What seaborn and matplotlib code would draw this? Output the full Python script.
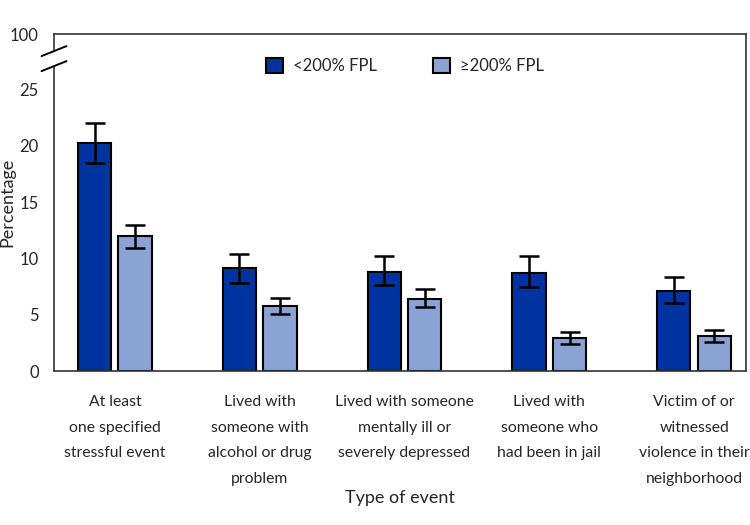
import matplotlib
matplotlib.use('Agg')
import matplotlib.pyplot as plt
import matplotlib.transforms as mtransforms
import seaborn as sns
import pandas as pd
import numpy as np

# data
events = ['At least\none specified\nstressful event',
          'Lived with\nsomeone with\nalcohol or drug\nproblem',
          'Lived with someone\nmentally ill or\nseverely depressed',
          'Lived with\nsomeone who\nhad been in jail',
          'Victim of or\nwitnessed\nviolence in their\nneighborhood']
groups = ['<200% FPL', '≥200% FPL']
low_fpl = [20.2, 9.1, 8.8, 8.7, 7.1]
low_fpl_lo = [18.5, 7.8, 7.6, 7.5, 6.0]
low_fpl_hi = [22.0, 10.4, 10.2, 10.2, 8.3]
high_fpl = [12.0, 5.8, 6.4, 2.9, 3.1]
high_fpl_lo = [10.9, 5.05, 5.7, 2.4, 2.6]
high_fpl_hi = [13.0, 6.5, 7.3, 3.45, 3.6]
colors = ['#0033A0', '#8AA2D4']

df = pd.DataFrame({
    'event': events * 2,
    'group': [groups[0]] * 5 + [groups[1]] * 5,
    'pct': low_fpl + high_fpl,
})

sns.set_style('white')
plt.rcParams['font.family'] = ['Lato', 'DejaVu Sans']

fig = plt.figure(figsize=(7.5, 5.25), dpi=100)
ax = fig.add_axes([0.072, 0.2933, 0.923, 0.6417])

sns.barplot(data=df, x='event', y='pct', hue='group', palette=colors,
            saturation=1, width=0.56, gap=0.18, errorbar=None,
            edgecolor='black', linewidth=1.5, ax=ax)

los = [low_fpl_lo, high_fpl_lo]
his = [low_fpl_hi, high_fpl_hi]
bars = list(ax.containers)
for i, cont in enumerate(bars):
    xs = [p.get_x() + p.get_width() / 2 for p in cont.patches]
    ys = [p.get_height() for p in cont.patches]
    lo = np.array(ys) - np.array(los[i])
    hi = np.array(his[i]) - np.array(ys)
    ax.errorbar(xs, ys, yerr=[lo, hi], fmt='none', ecolor='black',
                elinewidth=1.8, capsize=7, capthick=1.8, zorder=5)

top = 29.9
ax.set_ylim(0, top)
ax.set_xlim(-0.42, 4.36)
ax.set_yticks([0, 5, 10, 15, 20, 25, top])
ax.set_yticklabels(['0', '5', '10', '15', '20', '25', '100'])
ax.tick_params(axis='both', which='both', direction='out', length=8,
               width=1.2, color='#333333', labelsize=12, pad=3)

# category labels drawn as text so the line spacing sticks
ax.set_xticks(range(len(events)))
ax.set_xticklabels([])
trans = mtransforms.blended_transform_factory(ax.transData, ax.transAxes)
for i, lab in enumerate(events):
    ax.text(i, -0.072, lab, transform=trans, ha='center', va='top',
            fontsize=11.3, linespacing=2.05)

ax.set_xlabel('Type of event', fontsize=13)
ax.xaxis.set_label_coords(0.5, -0.352)
ax.set_ylabel('Percentage', fontsize=13)
ax.yaxis.set_label_coords(-0.056, 0.5)

for s in ['top', 'right', 'bottom']:
    ax.spines[s].set_visible(True)
    ax.spines[s].set_color('#333333')
    ax.spines[s].set_linewidth(1.2)
ax.spines['left'].set_visible(False)

# broken left axis
y_up = 0.9496
y_dn = 0.905
kw = dict(transform=ax.transAxes, color='#333333', lw=1.2, clip_on=False)
ax.plot([0, 0], [1, y_up], **kw)
ax.plot([0, 0], [y_dn, 0], **kw)
dx, dy = 0.018, 0.0148
for yc in [y_up, y_dn]:
    ax.plot([-dx, dx], [yc - dy, yc + dy], color='black', lw=1.4,
            transform=ax.transAxes, clip_on=False)

leg = ax.legend(loc='center', bbox_to_anchor=(0.507, 0.905), ncol=2,
                frameon=False, fontsize=12, handlelength=1.0,
                handleheight=1.0, columnspacing=3.4, handletextpad=0.6)
for h in leg.legend_handles:
    h.set_edgecolor('black')
    h.set_linewidth(1.5)

fig.savefig('out.png', dpi=100)
